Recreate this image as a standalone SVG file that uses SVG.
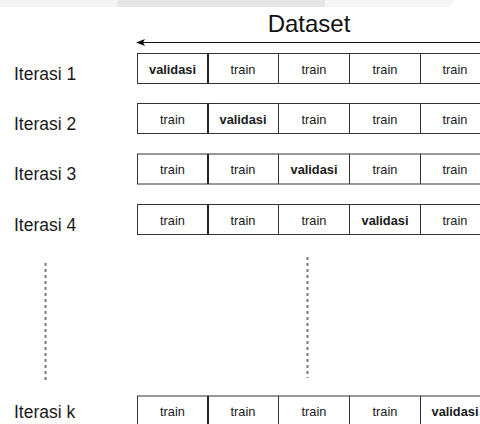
<svg xmlns="http://www.w3.org/2000/svg" width="480" height="424" viewBox="0 0 480 424">
  <style>
    .lbl { font-family: "Liberation Sans", Arial, sans-serif; font-size: 17.5px; fill: #1a1a1a; }
    .title { font-family: "Liberation Sans", Arial, sans-serif; font-size: 24px; fill: #111; }
    .cell { fill: #ffffff; stroke: #333333; stroke-width: 1; }
    .sep { stroke: #333333; stroke-width: 1; }
    .sep1 { stroke: #222222; stroke-width: 2; }
    .t { font-family: "Liberation Sans", Arial, sans-serif; font-size: 12.8px; fill: #1a1a1a; text-anchor: middle; }
    .v { font-weight: bold; }
    .dots { stroke: #7a7a7a; stroke-width: 2; stroke-dasharray: 3 3; fill: none; }
    .arrow { stroke: #111; stroke-width: 1; fill: none; }
  </style>
  <defs>
    <!-- one row of five folds -->
    <g id="frame">
      <rect class="cell" x="137.5" y="0.5" width="354" height="30"/>
      <line class="sep1" x1="208" y1="0.5" x2="208" y2="30.5"/>
      <line class="sep" x1="278.5" y1="0.5" x2="278.5" y2="30.5"/>
      <line class="sep" x1="349.5" y1="0.5" x2="349.5" y2="30.5"/>
      <line class="sep" x1="420.5" y1="0.5" x2="420.5" y2="30.5"/>
    </g>
  </defs>

  <rect width="480" height="424" fill="#ffffff"/>

  <!-- top edge strip -->
  <g id="top-strip">
    <rect x="0" y="0" width="117" height="7" fill="#f4f4f4"/>
    <rect x="117" y="0" width="208" height="7" fill="#e6e6e8"/>
    <polygon points="325,0 455,0 449,7 325,7" fill="#f5f5f5"/>
  </g>

  <g id="title">
    <text class="title" x="309" y="31.5" text-anchor="middle">Dataset</text>
  </g>

  <g id="connectors">
    <line class="arrow" x1="142" y1="42.5" x2="482" y2="42.5"/>
    <path d="M136,42.5 L145,39 L143,42.5 L145,46 Z" fill="#111"/>
  </g>

  <g id="ellipsis">
    <line class="dots" x1="45.5" y1="263" x2="45.5" y2="383"/>
    <line class="dots" x1="307.5" y1="257" x2="307.5" y2="378"/>
  </g>

  <g id="row-1">
    <text class="lbl" x="14" y="79.5">Iterasi 1</text>
    <use href="#frame" y="53"/>
    <text class="t v" x="172.5" y="73.5">validasi</text>
    <text class="t" x="243" y="73.5">train</text>
    <text class="t" x="314" y="73.5">train</text>
    <text class="t" x="385" y="73.5">train</text>
    <text class="t" x="455" y="73.5">train</text>
  </g>

  <g id="row-2">
    <text class="lbl" x="14" y="129.5">Iterasi 2</text>
    <use href="#frame" y="103"/>
    <text class="t" x="172.5" y="123.5">train</text>
    <text class="t v" x="243" y="123.5">validasi</text>
    <text class="t" x="314" y="123.5">train</text>
    <text class="t" x="385" y="123.5">train</text>
    <text class="t" x="455" y="123.5">train</text>
  </g>

  <g id="row-3">
    <text class="lbl" x="14" y="180">Iterasi 3</text>
    <use href="#frame" y="153.5"/>
    <text class="t" x="172.5" y="174">train</text>
    <text class="t" x="243" y="174">train</text>
    <text class="t v" x="314" y="174">validasi</text>
    <text class="t" x="385" y="174">train</text>
    <text class="t" x="455" y="174">train</text>
  </g>

  <g id="row-4">
    <text class="lbl" x="14" y="230.5">Iterasi 4</text>
    <use href="#frame" y="204"/>
    <text class="t" x="172.5" y="224.5">train</text>
    <text class="t" x="243" y="224.5">train</text>
    <text class="t" x="314" y="224.5">train</text>
    <text class="t v" x="385" y="224.5">validasi</text>
    <text class="t" x="455" y="224.5">train</text>
  </g>

  <g id="row-k">
    <text class="lbl" x="14" y="417.5">Iterasi k</text>
    <use href="#frame" y="395.5"/>
    <text class="t" x="172.5" y="416">train</text>
    <text class="t" x="243" y="416">train</text>
    <text class="t" x="314" y="416">train</text>
    <text class="t" x="385" y="416">train</text>
    <text class="t v" x="455" y="416">validasi</text>
  </g>
</svg>
